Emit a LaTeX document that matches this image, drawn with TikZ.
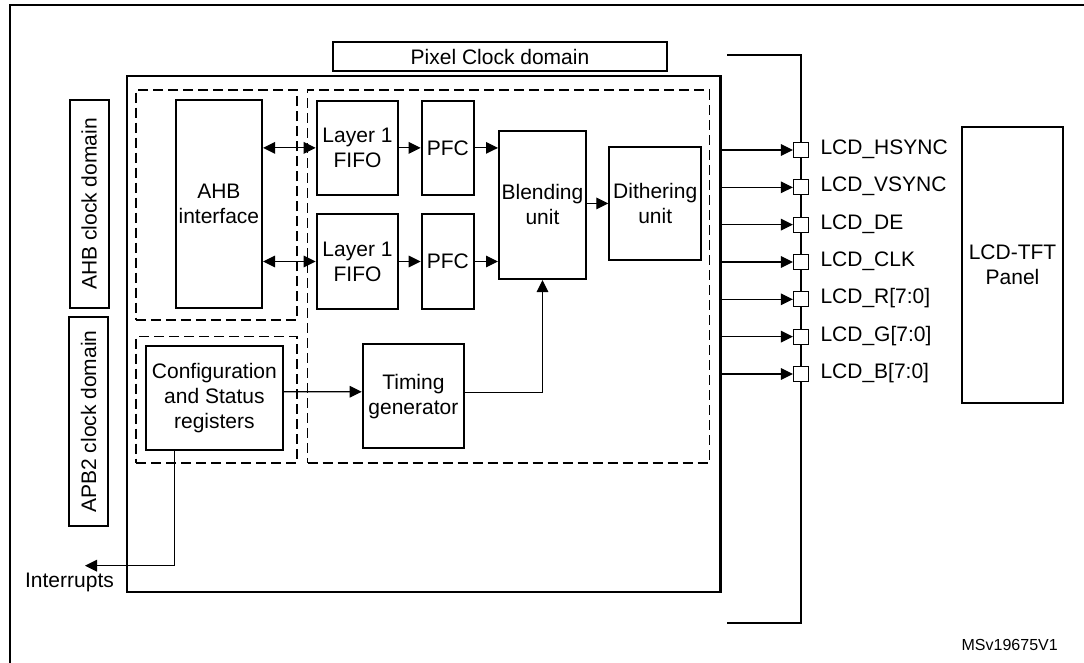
\documentclass[tikz,border=0pt]{standalone}
\usepackage{fontspec}
\setmainfont{Liberation Sans}
\usetikzlibrary{arrows.meta,calc}

\begin{document}
\begin{tikzpicture}[x=0.5pt, y=-0.5pt, >={Triangle[length=6pt,width=5.8pt]},
  every node/.style={align=center, inner sep=0pt, font=\fontsize{10.5}{12.5}\selectfont},
  blk/.style={draw, line width=1pt},
  clkbox/.style={draw, line width=1pt, rotate=90, minimum height=19.5pt},
  dsh/.style={draw, line width=0.75pt, dash pattern=on 5pt off 2.5pt},
  sig/.style={line width=0.6pt, ->},
  pin/.style={draw, fill=white, line width=0.6pt, minimum size=7.5pt},
  lbl/.style={anchor=base west}]
  \useasboundingbox (0,0) rectangle (1084,663);

  % outer frame (right and bottom edges are cut off)
  \draw[line width=1pt] (1084,5) -- (10,5) -- (10,663);

  % clock domain labels
  \node[clkbox, minimum width=104pt] (ahbclk) at (89,204) {AHB clock domain};
  \node[clkbox, minimum width=104.5pt] (apbclk) at (88.5,421.5) {APB2 clock domain};
  \node[blk, minimum width=166.7pt, minimum height=14.3pt] (pixclk) at (500,56.7) {Pixel Clock domain};

  % LTDC block with its dashed clock regions
  \node[draw, line width=1.1pt, minimum width=296.9pt, minimum height=258pt] (ltdc) at (423.6,334) {};
  \node[dsh, minimum width=80.6pt, minimum height=115pt] (ahbreg) at (216.4,205) {};
  \node[dsh, minimum width=80.4pt, minimum height=63.2pt] (apbreg) at (216.4,399.9) {};
  \node[dsh, minimum width=200.9pt, minimum height=186.5pt] (pixreg) at (508.4,276.5) {};

  % units
  \node[blk, minimum width=43.2pt, minimum height=104pt] (ahb) at (218.9,204) {AHB\\interface};
  \node[blk, minimum width=40.8pt, minimum height=47.2pt] (fifo1) at (357.5,147.9) {Layer 1\\FIFO};
  \node[blk, minimum width=40.8pt, minimum height=47.5pt] (fifo2) at (357.5,261.5) {Layer 1\\FIFO};
  \node[blk, minimum width=26.2pt, minimum height=47.2pt] (pfc1) at (447.9,147.9) {PFC};
  \node[blk, minimum width=26.2pt, minimum height=47.5pt] (pfc2) at (447.9,261.5) {PFC};
  \node[blk, minimum width=43.5pt, minimum height=74.2pt] (blend) at (542.5,204.9) {Blending\\unit};
  \node[blk, minimum width=45.9pt, minimum height=56.7pt] (dither) at (655.2,203.4) {Dithering\\unit};
  \node[blk, minimum width=68.4pt, minimum height=52pt] (config) at (214.4,398) {Configuration\\and Status\\registers};
  \node[blk, minimum width=50.7pt, minimum height=52.2pt] (timing) at (413.4,396.2) {Timing\\generator};

  % data path
  \foreach \f in {1,2} {
    \draw[sig, <->] (fifo\f.west -| ahb.east) -- (fifo\f.west);
    \draw[sig] (fifo\f) -- (pfc\f);
    \draw[sig] (pfc\f) -- (pfc\f -| blend.west);
  }
  \draw[sig] (dither.west -| blend.east) -- (dither.west);
  \draw[sig] ($(config.east)+(0,-6.3)$) -- ($(timing.west)+(0,-4.4)$);
  \draw[sig] ($(timing.east)+(0,-3.9)$) -| (blend.south);

  % interrupts
  \coordinate (irq) at (85,565.7);
  \node[anchor=base] (irqtxt) at (69.5,588) {Interrupts};
  \draw[sig] ($(config.south west)+(29.7,0)$) |- (irq);

  % output bus and pins
  \coordinate (bustop) at (727,55);
  \coordinate (busbot) at (727,623);
  \draw[line width=1pt] (bustop) -- (801,55) -- (801,623) -- (busbot);
  \foreach \s [count=\i] in {LCD\_HSYNC, LCD\_VSYNC, LCD\_DE, LCD\_CLK, LCD\_R[7:0], LCD\_G[7:0], LCD\_B[7:0]} {
    \pgfmathsetmacro\yy{150+37.33*(\i-1)}
    \node[pin] (pin\i) at (801,\yy) {};
    \node[lbl] (sig\i) at ([xshift=5.5pt,yshift=-2.2pt]pin\i.east) {\s};
    \draw[sig] (pin\i.west -| ltdc.east) -- (pin\i.west);
  }

  \node[blk, minimum width=50.8pt, minimum height=138.3pt] (panel) at (1012.5,265) {LCD-TFT\\Panel};
  \node[font=\fontsize{8}{9.6}\selectfont] (docref) at (1009.7,645) {MSv19675V1};
\end{tikzpicture}
\end{document}
